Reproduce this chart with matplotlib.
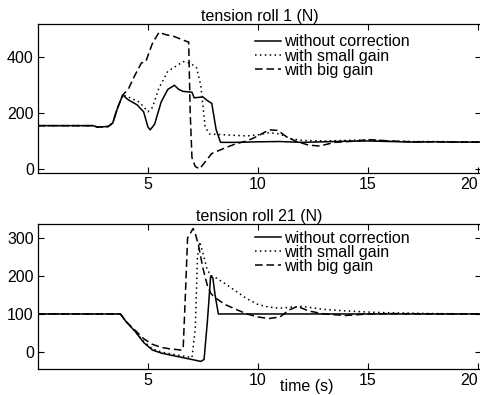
import matplotlib
matplotlib.use("Agg")
import matplotlib.pyplot as plt

plt.rcParams['font.family'] = ['Liberation Sans', 'DejaVu Sans']

# ---- data: top panel (tension roll 1) ----
t1_none = [0, 2.5, 2.7, 3.2, 3.4, 3.6, 3.85, 4.1, 4.5, 4.8, 5.0, 5.1, 5.3, 5.6, 5.9, 6.2, 6.4, 6.6,
           7.0, 7.1, 7.5, 7.7, 7.9, 8.1, 8.3, 9, 10, 11, 12, 13, 14, 15, 16, 17, 18, 19, 20, 20.2]
y1_none = [155, 155, 150, 152, 165, 215, 265, 248, 230, 205, 150, 140, 160, 240, 285, 300, 285, 278,
           275, 255, 258, 245, 235, 140, 95, 95, 97, 98, 95, 97, 99, 100, 98, 96, 97, 96, 96, 96]

t1_small = [0, 2.5, 2.7, 3.2, 3.4, 3.6, 3.85, 4.1, 4.6, 5.0, 5.2, 5.5, 5.9, 6.3, 6.6, 6.9, 7.2, 7.4,
            7.6, 7.8, 8.5, 9.5, 10.0, 10.5, 11.0, 11.5, 12, 13, 14, 15, 16, 17, 18, 19, 20, 20.2]
y1_small = [155, 155, 150, 152, 165, 215, 265, 258, 240, 205, 220, 290, 350, 370, 385, 380, 365, 300,
            150, 125, 122, 118, 122, 130, 125, 108, 102, 100, 102, 104, 100, 98, 98, 97, 97, 97]

t1_big = [0, 2.5, 2.7, 3.2, 3.4, 3.6, 3.85, 4.1, 4.4, 4.7, 4.9, 5.2, 5.5, 5.8, 6.2, 6.6, 6.85, 6.92,
          7.0, 7.15, 7.35, 7.6, 7.9, 8.5, 9.0, 9.5, 10.0, 10.5, 10.9, 11.3, 11.7, 12.3, 12.8, 13.5,
          14.5, 15, 16, 17, 18, 19, 20, 20.2]
y1_big = [155, 155, 150, 152, 165, 215, 265, 285, 335, 380, 385, 450, 490, 482, 475, 462, 455, 200,
          40, 8, 0, 25, 55, 75, 90, 100, 118, 140, 138, 115, 100, 85, 82, 95,
          100, 105, 100, 97, 97, 96, 96, 96]

# ---- data: bottom panel (tension roll 21) ----
t2_none = [0, 3.75, 4.0, 4.4, 4.8, 5.2, 5.6, 6.0, 6.5, 7.0, 7.4, 7.55, 7.7, 7.85, 7.95, 8.05, 8.2,
           9, 10, 12, 14, 16, 18, 20, 20.2]
y2_none = [100, 100, 80, 55, 25, 5, -3, -8, -14, -20, -25, -20, 80, 200, 195, 150, 100,
           100, 100, 100, 100, 100, 100, 100, 100]

t2_small = [0, 3.75, 4.0, 4.4, 4.8, 5.2, 5.6, 6.0, 6.5, 7.0, 7.15, 7.25, 7.35, 7.5, 7.7, 7.9, 8.1,
            8.5, 9.0, 9.5, 10, 10.5, 11, 11.5, 12, 13, 14, 15, 16, 17, 18, 20, 20.2]
y2_small = [100, 100, 80, 55, 28, 8, 0, -5, -10, -15, 60, 250, 290, 260, 215, 200, 195,
            180, 160, 140, 125, 118, 115, 118, 120, 112, 108, 105, 103, 102, 101, 100, 100]

t2_big = [0, 3.75, 4.0, 4.4, 4.8, 5.2, 5.6, 6.0, 6.5, 6.6, 6.7, 6.8, 6.95, 7.05, 7.15, 7.3, 7.5,
          7.7, 7.85, 8.0, 8.5, 9.0, 9.5, 10.0, 10.5, 11.0, 11.4, 11.8, 12.3, 13, 14, 15, 16, 18, 20, 20.2]
y2_big = [100, 100, 80, 58, 35, 20, 12, 8, 5, 8, 150, 300, 315, 325, 312, 280, 220,
          175, 155, 145, 125, 112, 100, 92, 88, 92, 110, 120, 108, 100, 96, 100, 101, 100, 100, 100]

labels = ["without correction", "with small gain", "with big gain"]
titles = ["tension roll 1 (N)", "tension roll 21 (N)"]
xticks = [5, 10, 15, 20]
yticks_top = [0, 200, 400]
yticks_bot = [0, 100, 200, 300]

W, H = 481, 395
fig = plt.figure(figsize=(W / 100, H / 100), dpi=100)

def axpos(l, t, r, b):
    return [l / W, 1 - b / H, (r - l) / W, (b - t) / H]

ax1 = fig.add_axes(axpos(38, 24, 481, 173))
ax2 = fig.add_axes(axpos(38, 224, 481, 369))

lw = 1.1
styles = [dict(ls='-'), dict(ls=(0, (1, 2.2))), dict(ls=(0, (5, 2.5)))]

for ax, series, yl, yt, title, leg_top in [
    (ax1, [(t1_none, y1_none), (t1_small, y1_small), (t1_big, y1_big)], (-15, 520), yticks_top, titles[0], 0.93),
    (ax2, [(t2_none, y2_none), (t2_small, y2_small), (t2_big, y2_big)], (-45, 337), yticks_bot, titles[1], 0.955),
]:
    for (x, y), st, lab in zip(series, styles, labels):
        ax.plot(x, y, color='black', lw=lw, label=lab, **st)
    ax.set_xlim(0, 20.14)
    ax.set_ylim(*yl)
    ax.set_xticks(xticks)
    ax.set_xticklabels([str(v) for v in xticks])
    ax.get_xticklabels()[-1].set_horizontalalignment('right')
    ax.set_yticks(yt)
    ax.tick_params(direction='in', top=True, right=True, length=4, width=0.8,
                   labelsize=11.5, pad=3)
    for s in ax.spines.values():
        s.set_linewidth(0.9)
    ax.set_title(title, fontsize=11.5, pad=2)
    ax.legend(loc='upper left', bbox_to_anchor=((255 - 38) / 443, leg_top), frameon=False,
              fontsize=11.5, borderpad=0, borderaxespad=0, handlelength=1.6,
              handletextpad=0.2, labelspacing=-0.05)

fig.text(307 / W, 1 - 386 / H, "time (s)", ha='center', va='center', fontsize=11.5)

fig.savefig("out.png", dpi=100)
